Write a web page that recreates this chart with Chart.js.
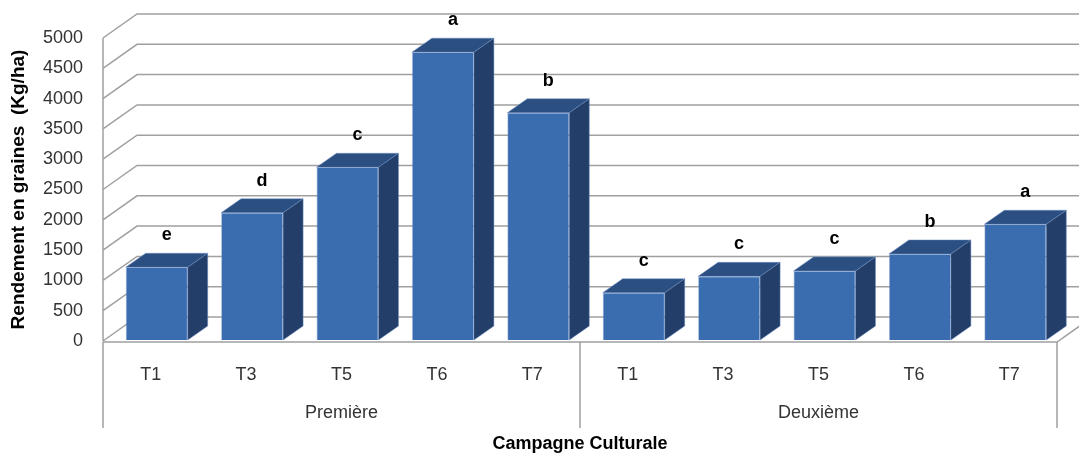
<!DOCTYPE html>
<html>
<head>
<meta charset="utf-8">
<script src="https://cdn.jsdelivr.net/npm/chart.js@4"></script>
<style>
  body { margin: 0; background: #fff; }
</style>
</head>
<body>
<canvas id="yield-chart" width="1079" height="455"></canvas>
<script>
const categories = ['T1', 'T3', 'T5', 'T6', 'T7', 'T1', 'T3', 'T5', 'T6', 'T7']
const campaigns = ['Première', 'Deuxième']
const perCampaign = 5
const yields = [1200, 2100, 2850, 4750, 3750, 780, 1050, 1140, 1420, 1910]
const letters = ['e', 'd', 'c', 'a', 'b', 'c', 'c', 'c', 'b', 'a']
const yMin = 0
const yMax = 5000
const yStep = 500

// fake 3D: wall depth and bar depth
const WALL_DX = 34, WALL_DY = -24
const BAR_DX = 20, BAR_DY = -14
const SHIFT_X = 6, SHIFT_Y = -1
const gridColor = '#a0a0a0'
const textColor = '#333333'
const font = "'Liberation Sans', Arial, sans-serif"

const box3d = {
  id: 'box3d',
  beforeDatasetsDraw(chart) {
    const ctx = chart.ctx
    const yScale = chart.scales.y
    const { left, right } = chart.chartArea
    ctx.save()
    ctx.strokeStyle = gridColor
    ctx.lineWidth = 1.5
    ctx.beginPath()
    for (let v = yMin; v <= yMax; v += yStep) {
      const y = yScale.getPixelForValue(v)
      ctx.moveTo(left, y)
      ctx.lineTo(left + WALL_DX, y + WALL_DY)
      ctx.lineTo(right + WALL_DX + 40, y + WALL_DY)
    }
    const y0 = yScale.getPixelForValue(yMin)
    // left wall front edge
    ctx.moveTo(left, yScale.getPixelForValue(yMax))
    ctx.lineTo(left, y0)
    // floor front and right edges
    ctx.moveTo(left, y0 + 1)
    ctx.lineTo(right, y0 + 1)
    ctx.lineTo(right + WALL_DX, y0 + 1 + WALL_DY)
    ctx.stroke()
    ctx.restore()
  },
  beforeDatasetDraw(chart) {
    chart.ctx.save()
    chart.ctx.translate(SHIFT_X, SHIFT_Y)
  },
  afterDatasetDraw(chart) {
    chart.ctx.restore()
  },
  afterDatasetsDraw(chart) {
    const ctx = chart.ctx
    const meta = chart.getDatasetMeta(0)
    ctx.save()
    meta.data.forEach((bar, i) => {
      const { x, y, base, width } = bar.getProps(['x', 'y', 'base', 'width'], true)
      const l = x - width / 2 + SHIFT_X
      const r = x + width / 2 + SHIFT_X
      const t = y + SHIFT_Y
      const b = base + SHIFT_Y
      ctx.strokeStyle = 'rgba(110,145,200,0.6)'
      ctx.lineWidth = 0.8
      // top face
      ctx.fillStyle = '#2c4f82'
      ctx.beginPath()
      ctx.moveTo(l, t)
      ctx.lineTo(l + BAR_DX, t + BAR_DY)
      ctx.lineTo(r + BAR_DX, t + BAR_DY)
      ctx.lineTo(r, t)
      ctx.closePath()
      ctx.fill()
      ctx.stroke()
      // side face
      ctx.fillStyle = '#233e68'
      ctx.beginPath()
      ctx.moveTo(r, t)
      ctx.lineTo(r + BAR_DX, t + BAR_DY)
      ctx.lineTo(r + BAR_DX, b + BAR_DY)
      ctx.lineTo(r, b)
      ctx.closePath()
      ctx.fill()
      ctx.stroke()
      // significance letter
      ctx.fillStyle = '#000'
      ctx.font = `bold 18px ${font}`
      ctx.textAlign = 'center'
      ctx.textBaseline = 'middle'
      ctx.fillText(letters[i], x + SHIFT_X + BAR_DX / 2, t - 32)
    })
    ctx.restore()
  },
  afterDraw(chart) {
    const ctx = chart.ctx
    const xScale = chart.scales.x
    const top = chart.chartArea.bottom + 1
    ctx.save()
    ctx.strokeStyle = gridColor
    ctx.lineWidth = 1.5
    ctx.fillStyle = textColor
    ctx.font = `18px ${font}`
    ctx.textAlign = 'center'
    ctx.textBaseline = 'middle'
    const half = (xScale.getPixelForValue(1) - xScale.getPixelForValue(0)) / 2
    ctx.beginPath()
    campaigns.forEach((name, g) => {
      const first = g * perCampaign
      const last = first + perCampaign - 1
      const l = xScale.getPixelForValue(first) - half
      const r = xScale.getPixelForValue(last) + half
      ctx.moveTo(l, top)
      ctx.lineTo(l, top + 86)
      ctx.moveTo(r, top)
      ctx.lineTo(r, top + 86)
      ctx.fillText(name, (l + r) / 2, top + 71)
    })
    ctx.stroke()
    ctx.restore()
  }
}

const ctx = document.getElementById('yield-chart')
new Chart(ctx, {
  type: 'bar',
  data: {
    labels: categories,
    datasets: [{
      data: yields,
      backgroundColor: '#3a6cb0',
      borderColor: 'rgba(110,145,200,0.6)',
      borderWidth: 0.8,
      categoryPercentage: 1,
      barPercentage: 0.65
    }]
  },
  options: {
    responsive: false,
    animation: false,
    devicePixelRatio: 1,
    layout: { padding: { top: 38, right: 22, left: 0, bottom: 0 } },
    plugins: { legend: { display: false }, tooltip: { enabled: false } },
    scales: {
      x: {
        grid: { display: false, drawTicks: false },
        border: { display: false },
        ticks: { color: textColor, font: { family: font, size: 18 }, padding: 23, maxRotation: 0, autoSkip: false },
        title: {
          display: true,
          text: 'Campagne Culturale',
          color: '#000',
          font: { family: font, size: 18, weight: 'bold' },
          padding: { top: 0, bottom: 0 }
        },
        afterFit: (scale) => { scale.height = 114 }
      },
      y: {
        min: yMin,
        max: yMax,
        grid: { display: false, drawTicks: false },
        border: { display: false },
        ticks: {
          stepSize: yStep,
          color: textColor,
          font: { family: font, size: 18 },
          padding: 20,
          callback: (value) => String(value)
        },
        title: {
          display: true,
          text: 'Rendement en graines  (Kg/ha)',
          color: '#000',
          font: { family: font, size: 19, weight: 'bold' },
          padding: { top: 7, bottom: 0 }
        },
        afterFit: (scale) => { scale.width = 103 }
      }
    }
  },
  plugins: [box3d]
})
</script>
</body>
</html>
